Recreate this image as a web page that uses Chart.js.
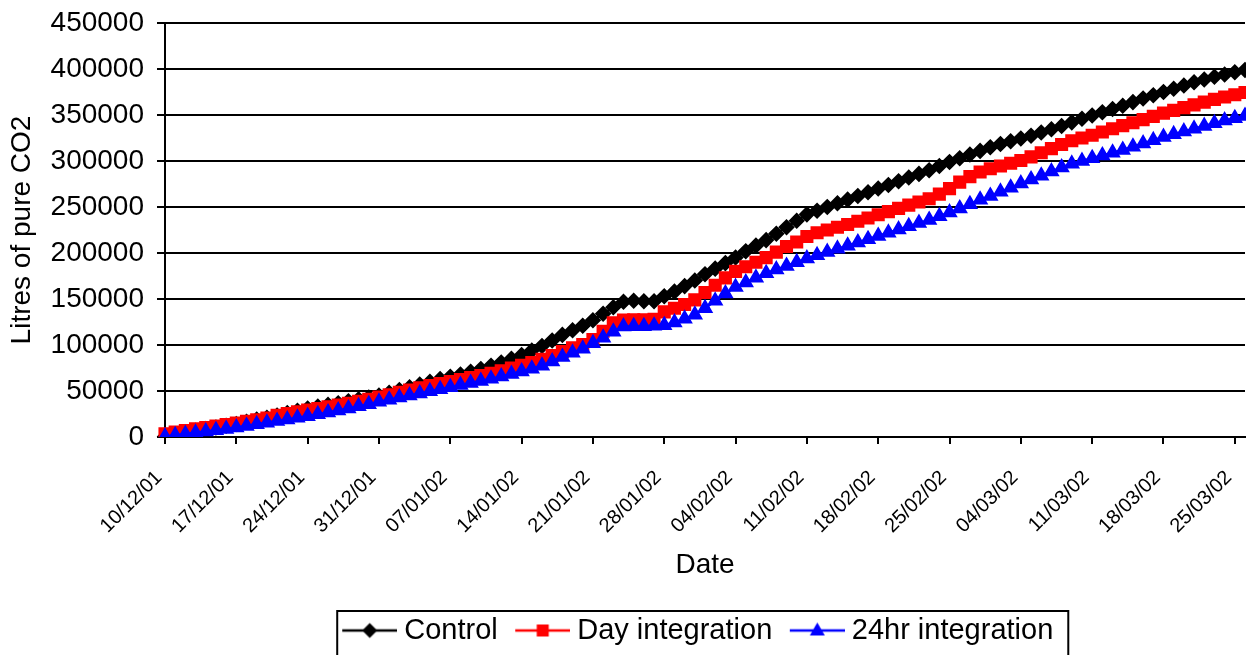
<!DOCTYPE html>
<html>
<head>
<meta charset="utf-8">
<script src="https://cdn.jsdelivr.net/npm/chart.js@4/dist/chart.umd.min.js"></script>
<style>
  html, body { margin: 0; padding: 0; background: #fff; }
  #wrap { width: 1246px; height: 655px; }
</style>
</head>
<body>
<div id="wrap"><canvas id="co2Chart" width="1246" height="655"></canvas></div>
<script>
// one label per day, 10/12/01 .. 26/03/02
const startDate = new Date(2001, 11, 10);
const dayCount = 107;
const dates = [];
for (let i = 0; i < dayCount; i++) {
  const d = new Date(startDate.getFullYear(), startDate.getMonth(), startDate.getDate() + i);
  const dd = String(d.getDate()).padStart(2, "0");
  const mm = String(d.getMonth() + 1).padStart(2, "0");
  const yy = String(d.getFullYear()).slice(2);
  dates.push(dd + "/" + mm + "/" + yy);
}

const seriesNames = ["Control", "Day integration", "24hr integration"];

const control = [
  500, 2400, 4600, 6800, 8600, 10400, 12300, 14200, 16500, 18900,
  21000, 23400, 26000, 28600, 31000, 33000, 34900, 36800, 38900, 40900,
  43000, 45000, 48000, 51000, 54000, 57000, 60000, 63000, 65500, 68000,
  71000, 74000, 77500, 81000, 85000, 89000, 94000, 99000, 105000, 111000,
  116000, 121000, 127000, 134000, 141000, 147000, 148000, 147500, 147500, 153000,
  158000, 164000, 170000, 177000, 183000, 189000, 195000, 202000, 208000, 214000,
  221000, 228000, 235000, 242000, 246000, 250000, 254000, 258000, 262000, 266000,
  270000, 274000, 278000, 282000, 286000, 290000, 294500, 299000, 303000, 307000,
  311000, 315000, 318500, 321500, 324500, 327500, 331000, 334500, 338000, 342000,
  346000, 349500, 353000, 356500, 360000, 364000, 368000, 371500, 375000, 378500,
  382000, 385500, 388500, 391500, 394000, 396500, 399000
];

const dayIntegration = [
  3500, 5300, 7100, 8800, 10400, 12000, 13600, 15200, 17000, 18800,
  20500, 23500, 25500, 27400, 29200, 31000, 32800, 34700, 36700, 38800,
  41000, 43500, 46000, 48500, 51000, 53500, 55800, 58000, 60200, 62400,
  64600, 66800, 69200, 72000, 75000, 78000, 81000, 84500, 88500, 93000,
  97000, 100500, 106000, 115000, 124000, 127000, 127500, 127500, 128000, 136000,
  140000, 144000, 149000, 157000, 165000, 173000, 180000, 185000, 190000, 195000,
  201000, 207000, 212000, 218000, 222000, 225000, 228000, 231000, 234500, 238000,
  241500, 245000, 248500, 252000, 255500, 259000, 264000, 270000, 277000, 283000,
  288000, 291500, 294500, 297500, 300500, 304500, 309000, 313500, 318000, 322000,
  325000, 328000, 331500, 335000, 338500, 341500, 345000, 348500, 352000, 355000,
  358000, 361000, 364000, 367000, 369500, 372000, 374500
];

const hr24Integration = [
  500, 1800, 3200, 4600, 6000, 7400, 8800, 10300, 12000, 13800,
  15600, 17300, 19000, 20800, 22600, 24600, 26700, 28800, 31000, 33300,
  35700, 38200, 40500, 42800, 45100, 47400, 49700, 52000, 54200, 56400,
  58600, 60800, 63200, 65800, 68500, 71300, 74300, 77500, 82000, 87000,
  91500, 96000, 102000, 108000, 114500, 120000, 120500, 120500, 121000, 121500,
  124500, 128500, 133000, 140000, 148000, 156000, 163000, 168000, 173000, 178000,
  182000, 186000, 190000, 194000, 197500, 201000, 204500, 208000, 211500, 215000,
  218500, 222000, 225500, 229000, 232500, 236000, 240000, 244000, 248500, 253000,
  258000, 262000, 266500, 271000, 275500, 280000, 284000, 288500, 293000, 297000,
  300000, 303000, 306000, 309000, 312000, 315500, 319000, 322500, 326000, 329000,
  332000, 335000, 338000, 341000, 344000, 346500, 349000
];

const FONT = "'Liberation Sans', Arial, sans-serif";
const tickEvery = 7;
const legendShift = -12;

// small line+marker pictures for the legend
function legendIcon(color, shape) {
  const c = document.createElement("canvas");
  c.width = 72;
  c.height = 22;
  const g = c.getContext("2d");
  g.strokeStyle = color;
  g.lineWidth = 2.5;
  g.beginPath();
  g.moveTo(17, 11);
  g.lineTo(72, 11);
  g.stroke();
  g.fillStyle = color;
  g.beginPath();
  const cx = 44.5, cy = 11;
  if (shape === "diamond") {
    g.moveTo(cx, cy - 7.5);
    g.lineTo(cx + 7.5, cy);
    g.lineTo(cx, cy + 7.5);
    g.lineTo(cx - 7.5, cy);
  } else if (shape === "square") {
    g.rect(cx - 6, cy - 6, 12, 12);
  } else {
    g.moveTo(cx, cy - 8);
    g.lineTo(cx + 7.5, cy + 5);
    g.lineTo(cx - 7.5, cy + 5);
  }
  g.closePath();
  g.fill();
  return c;
}
const legendIcons = [
  legendIcon("#000000", "diamond"),
  legendIcon("#ff0000", "square"),
  legendIcon("#0000ff", "triangle"),
];

const legendFrame = {
  id: "legendFrame",
  afterLayout(chart) {
    const lg = chart.legend;
    if (!lg) return;
    lg.left += legendShift;
    lg.right += legendShift;
    lg.adjustHitBoxes();
  },
  afterDraw(chart) {
    const lg = chart.legend;
    if (!lg || !lg.legendHitBoxes || !lg.legendHitBoxes.length) return;
    const hb = lg.legendHitBoxes;
    const last = hb[hb.length - 1];
    const left = hb[0].left + 4.5;
    const right = last.left + last.width + 15;
    const ctx = chart.ctx;
    ctx.save();
    ctx.strokeStyle = "#000";
    ctx.lineWidth = 2;
    ctx.strokeRect(left, lg.top + 3, right - left, 100);
    ctx.restore();
  },
};

const ctx = document.getElementById("co2Chart").getContext("2d");
new Chart(ctx, {
  type: "line",
  data: {
    labels: dates,
    datasets: [
      {
        label: seriesNames[0],
        data: control,
        borderColor: "#000000",
        backgroundColor: "#000000",
        pointBackgroundColor: "#000000",
        pointBorderColor: "#000000",
        pointStyle: "rectRot",
        pointRadius: 6.5,
        borderWidth: 2.5,
        order: 3,
      },
      {
        label: seriesNames[1],
        data: dayIntegration,
        borderColor: "#ff0000",
        backgroundColor: "#ff0000",
        pointBackgroundColor: "#ff0000",
        pointBorderColor: "#ff0000",
        pointStyle: "rect",
        pointRadius: 7.5,
        borderWidth: 2.5,
        order: 2,
      },
      {
        label: seriesNames[2],
        data: hr24Integration,
        borderColor: "#0000ff",
        backgroundColor: "#0000ff",
        pointBackgroundColor: "#0000ff",
        pointBorderColor: "#0000ff",
        pointStyle: "triangle",
        pointRadius: 7,
        borderWidth: 2.5,
        order: 1,
      },
    ],
  },
  options: {
    responsive: false,
    animation: false,
    devicePixelRatio: 1,
    layout: { autoPadding: false, padding: { top: 23, right: 1, left: 0, bottom: 0 } },
    elements: { line: { tension: 0 }, point: { borderWidth: 1, hoverRadius: 7 } },
    plugins: {
      tooltip: { enabled: false },
      legend: {
        position: "bottom",
        fullSize: false,
        labels: {
          usePointStyle: true,
          pointStyleWidth: 57,
          boxHeight: 29,
          padding: 8,
          color: "#000",
          font: { family: FONT, size: 29 },
          sort: (a, b) => a.datasetIndex - b.datasetIndex,
          generateLabels: (chart) =>
            Chart.defaults.plugins.legend.labels.generateLabels(chart).map((l) => {
              l.pointStyle = legendIcons[l.datasetIndex];
              return l;
            }),
        },
      },
    },
    scales: {
      x: {
        type: "category",
        offset: false,
        afterFit(scale) {
          scale.height = 171;
          scale.paddingLeft = 0;
          scale.paddingRight = 0;
        },
        border: { display: true, color: "#000", width: 2 },
        grid: {
          drawOnChartArea: false,
          drawTicks: true,
          tickLength: 7,
          lineWidth: 2,
          color: (c) => (c.index % tickEvery === 0 ? "#000" : "rgba(0,0,0,0)"),
        },
        ticks: {
          autoSkip: false,
          minRotation: 45,
          maxRotation: 45,
          padding: 22,
          labelOffset: -6,
          color: "#000",
          font: { family: FONT, size: 20 },
          callback: (v, i) => (i % tickEvery === 0 ? dates[i] : ""),
        },
        title: {
          display: true,
          text: "Date",
          color: "#000",
          font: { family: FONT, size: 28 },
          padding: { top: 0, bottom: 26 },
        },
      },
      y: {
        min: 0,
        max: 450000,
        afterFit(scale) {
          scale.width = 165;
          scale.paddingTop = 0;
          scale.paddingBottom = 0;
        },
        border: { display: true, color: "#000", width: 2 },
        grid: {
          color: "#000",
          lineWidth: 2,
          tickLength: 8,
        },
        ticks: {
          stepSize: 50000,
          padding: 13,
          color: "#000",
          font: { family: FONT, size: 28 },
          callback: (v) => String(v),
        },
        title: {
          display: true,
          text: "Litres of pure CO2",
          color: "#000",
          font: { family: FONT, size: 28 },
          padding: { top: 5, bottom: 0 },
        },
      },
    },
  },
  plugins: [legendFrame],
});
</script>
</body>
</html>
